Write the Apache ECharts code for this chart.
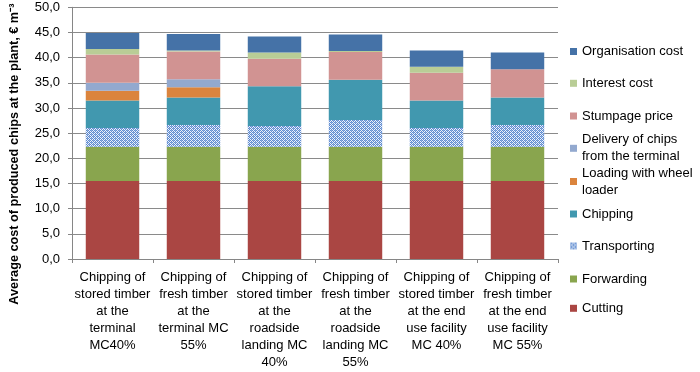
<!DOCTYPE html>
<html>
<head>
<meta charset="utf-8">
<script src="https://cdn.jsdelivr.net/npm/echarts@6/dist/echarts.min.js"></script>
<style>html,body{margin:0;padding:0;background:#fff;}#c{width:700px;height:372px;}</style>
</head>
<body>
<div id="c"></div>
<script>
var categories = [
  'Chipping of\nstored timber\nat the\nterminal\nMC40%',
  'Chipping of\nfresh timber\nat the\nterminal MC\n55%',
  'Chipping of\nstored timber\nat the\nroadside\nlanding MC\n40%',
  'Chipping of\nfresh timber\nat the\nroadside\nlanding MC\n55%',
  'Chipping of\nstored timber\nat the end\nuse facility\nMC 40%',
  'Chipping of\nfresh timber\nat the end\nuse facility\nMC 55%'
];
var cutting      = [15.5, 15.5, 15.5, 15.5, 15.5, 15.5];
var forwarding   = [6.8, 6.8, 6.8, 6.8, 6.8, 6.8];
var transporting = [3.7, 4.3, 4.1, 5.3, 3.7, 4.3];
var chipping     = [5.5, 5.5, 7.9, 8.0, 5.5, 5.5];
var loading      = [1.9, 2.0, 0, 0, 0, 0];
var delivery     = [1.6, 1.6, 0, 0, 0, 0];
var stumpage     = [5.6, 5.5, 5.5, 5.5, 5.5, 5.6];
var interest     = [1.1, 0.2, 1.2, 0.2, 1.2, 0];
var organisation = [3.2, 3.3, 3.2, 3.3, 3.2, 3.3];
var yTicks = [0, 5, 10, 15, 20, 25, 30, 35, 40, 45, 50];

var FONT = "'Liberation Sans', Arial, sans-serif";

// fine hatch pattern for Transporting
var pc = document.createElement('canvas');
pc.width = 4; pc.height = 4;
var pctx = pc.getContext('2d');
pctx.fillStyle = '#eef3fb'; pctx.fillRect(0, 0, 4, 4);
pctx.fillStyle = '#5f8bd0';
for (var yy = 0; yy < 4; yy++) {
  for (var xx = 0; xx < 4; xx++) {
    if ((xx + yy) % 2 === 0) pctx.fillRect(xx, yy, 1, 1);
  }
}
pctx.fillStyle = '#8fb0e0';
pctx.fillRect(1, 0, 1, 1); pctx.fillRect(3, 2, 1, 1);
var hatch = {image: pc, repeat: 'repeat'};

var seriesDefs = [
  {name: 'Cutting', data: cutting, color: '#AA4643'},
  {name: 'Forwarding', data: forwarding, color: '#89A54E'},
  {name: 'Transporting', data: transporting, color: hatch},
  {name: 'Chipping', data: chipping, color: '#4198AF'},
  {name: 'Loading with wheel\nloader', data: loading, color: '#DB843D'},
  {name: 'Delivery of chips\nfrom the terminal', data: delivery, color: '#93A9CF'},
  {name: 'Stumpage price', data: stumpage, color: '#D19392'},
  {name: 'Interest cost', data: interest, color: '#B9CD96'},
  {name: 'Organisation cost', data: organisation, color: '#4572A7'}
];

var legendPos = [
  ['Organisation cost', 43, false],
  ['Interest cost', 74.8, false],
  ['Stumpage price', 107.5, false],
  ['Delivery of chips\nfrom the terminal', 122.8, true],
  ['Loading with wheel\nloader', 156, true],
  ['Chipping', 205.5, false],
  ['Transporting', 237.5, false],
  ['Forwarding', 270.5, false],
  ['Cutting', 299.8, false]
];

var legends = legendPos.map(function (l) {
  return {
    data: [l[0]], orient: 'vertical', left: 570, top: l[1],
    itemWidth: 7, itemHeight: 7, icon: 'rect', padding: 0, itemGap: 0,
    selectedMode: false,
    textStyle: {fontSize: 13, lineHeight: 17, fontFamily: FONT, color: '#000',
      padding: l[2] ? [17, 0, 0, 0] : 0}
  };
});

var chart = echarts.init(document.getElementById('c'), null, {renderer: 'canvas'});
chart.setOption({
  animation: false,
  backgroundColor: '#fff',
  legend: legends,
  grid: {left: 66, right: 142, top: 7.3, bottom: 113, containLabel: false},
  xAxis: {
    type: 'category', data: categories,
    axisLine: {lineStyle: {color: '#868686', width: 1}},
    axisTick: {show: true, length: 4, lineStyle: {color: '#868686'}},
    axisLabel: {interval: 0, fontSize: 13, lineHeight: 17, fontFamily: FONT, color: '#000', margin: 10}
  },
  yAxis: {
    type: 'value', min: yTicks[0], max: yTicks[yTicks.length - 1], interval: 5,
    name: 'Average cost of produced chips at the plant, € m⁻³',
    nameLocation: 'middle', nameGap: 51,
    nameTextStyle: {fontSize: 12.7, fontWeight: 'bold', fontFamily: FONT, color: '#000', padding: [0, 42, 0, 0]},
    axisLine: {show: true, lineStyle: {color: '#868686'}},
    axisTick: {show: true, length: 4, lineStyle: {color: '#868686'}},
    splitLine: {lineStyle: {color: '#8a8a8a', width: 1}},
    axisLabel: {fontSize: 13, fontFamily: FONT, color: '#000', margin: 12,
      formatter: function (v) { return v.toFixed(1).replace('.', ','); }}
  },
  series: seriesDefs.map(function (s) {
    return {
      name: s.name, type: 'bar', stack: 'total', data: s.data,
      barWidth: '66%',
      itemStyle: {color: s.color},
      emphasis: {disabled: true}
    };
  })
});
</script>
</body>
</html>
